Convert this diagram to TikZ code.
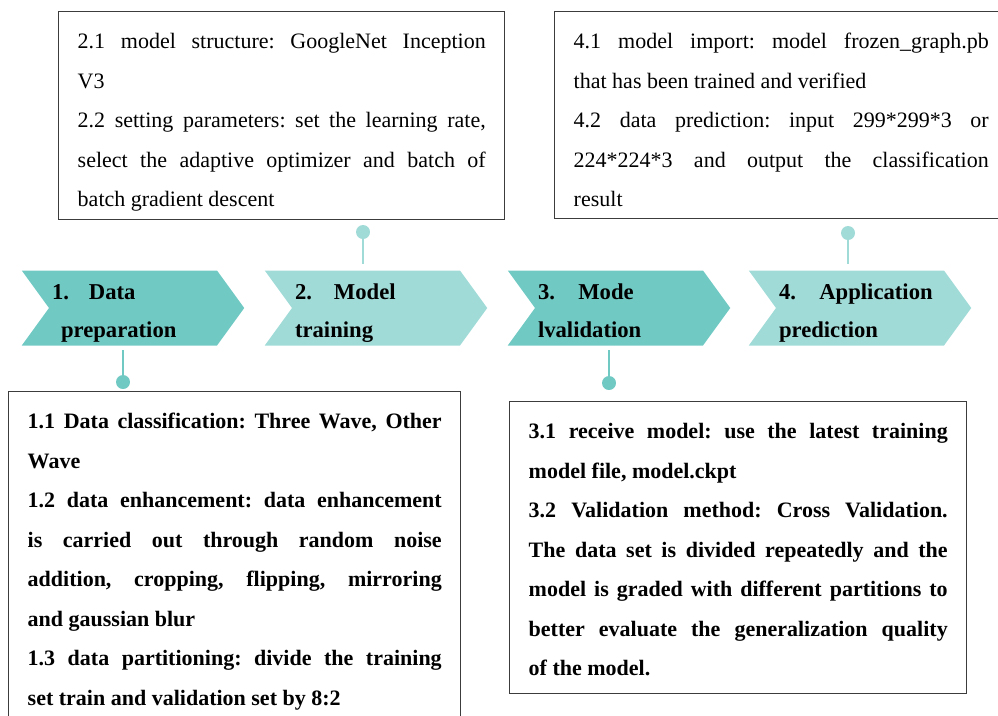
\documentclass[tikz,border=0pt]{standalone}
\usepackage{fontspec}
\setmainfont{Liberation Serif}
\usetikzlibrary{shapes.symbols}

\definecolor{tealdark}{HTML}{71C9C4}
\definecolor{teallight}{HTML}{A1DBD8}
\definecolor{frame}{HTML}{3C3C3C}

\tikzset{
    stage/.style={signal, signal from=west, signal to=east, signal pointer angle=108,
        inner xsep=2.25pt, inner ysep=0pt, text width=121.5pt, align=left,
        text height=21.75pt, text depth=34.5pt,
        font=\bfseries\fontsize{17}{28.5}\selectfont},
    infobox/.style={draw=frame, line width=1.1pt, anchor=north west, align=justify,
        inner xsep=14.25pt, inner ysep=0pt, text height=27.75pt,
        font=\fontsize{16.5}{29.6}\selectfont,
        execute at begin node={\frenchspacing\tolerance=9999\hyphenpenalty=10000\exhyphenpenalty=10000}},
    dot/.style={circle, inner sep=0pt, minimum size=10.5pt},
    stem/.style={line width=2.2pt}
}

\begin{document}
\begin{tikzpicture}[x=0.75pt, y=-0.75pt]

        \useasboundingbox (0,0) rectangle (998,715);

        % the four stages
        \node[stage, fill=tealdark] (chev1) at (133,308) {1.\hspace{15pt}Data\\\hspace*{6.75pt}preparation};
        \node[stage, fill=teallight] (chev2) at (376,308) {2.\hspace{16.5pt}Model\\training};
        \node[stage, fill=tealdark] (chev3) at (619,308) {3.\hspace{17.5pt}Mode\\lvalidation};
        \node[stage, fill=teallight] (chev4) at (860,308) {4.\hspace{17.5pt}Application\\prediction};

        % detail boxes
        \node[infobox, text width=310.5pt, text depth=300pt, font=\bfseries\fontsize{16.5}{29.6}\selectfont] (box1) at (8,391)
            {1.1 Data classification: Three Wave, Other\linebreak Wave\par
             1.2 data enhancement: data enhancement\linebreak is carried out through random noise\linebreak addition, cropping, flipping, mirroring\linebreak and gaussian blur\par
             1.3 data partitioning: divide the training\linebreak set train and validation set by 8:2};
        \node[infobox, text width=306pt, text depth=128.25pt] (box2) at (58,11)
            {2.1 model structure: GoogleNet Inception\linebreak V3\par
             2.2 setting parameters: set the learning rate,\linebreak select the adaptive optimizer and batch of\linebreak batch gradient descent};
        \node[infobox, text width=314.25pt, text depth=191.25pt, font=\bfseries\fontsize{16.5}{29.6}\selectfont] (box3) at (509,401)
            {3.1 receive model: use the latest training\linebreak model file, model.ckpt\par
             3.2 Validation method: Cross Validation.\linebreak The data set is divided repeatedly and the\linebreak model is graded with different partitions to\linebreak better evaluate the generalization quality\linebreak of the model.};
        \node[infobox, text width=311.25pt, text depth=127.5pt] (box4) at (554,11)
            {4.1 model import: model frozen\_graph.pb\linebreak that has been trained and verified\par
             4.2 data prediction: input 299*299*3 or\linebreak 224*224*3 and output the classification\linebreak result};

        % dots and stems
        \node[dot, fill=tealdark] (d1) at (123,382) {};
        \node[dot, fill=teallight] (d2) at (363,232) {};
        \node[dot, fill=tealdark] (d3) at (609,383) {};
        \node[dot, fill=teallight] (d4) at (848,233) {};

        \draw[stem, tealdark, shorten >=3pt] (d1) -- (d1 |- chev1.south);
        \draw[stem, teallight, shorten >=4.5pt] (d2) -- (d2 |- chev2.north);
        \draw[stem, tealdark, shorten >=3pt] (d3) -- (d3 |- chev3.south);
        \draw[stem, teallight, shorten >=4.5pt] (d4) -- (d4 |- chev4.north);

    \end{tikzpicture}
\end{document}
